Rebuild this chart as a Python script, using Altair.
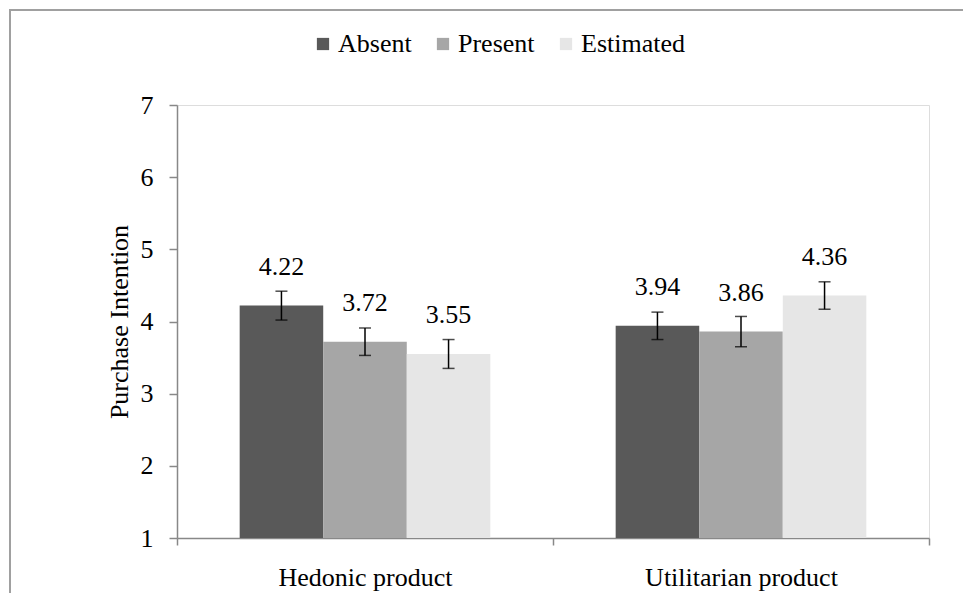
import altair as alt
import pandas as pd

categories = ["Hedonic product", "Utilitarian product"]
groups = ["Absent", "Present", "Estimated"]
means = {
    "Hedonic product": [4.22, 3.72, 3.55],
    "Utilitarian product": [3.94, 3.86, 4.36],
}
errors = {
    "Hedonic product": [0.20, 0.19, 0.20],
    "Utilitarian product": [0.19, 0.21, 0.19],
}
colors = ["#595959", "#a6a6a6", "#e6e6e6"]
y_ticks = [1, 2, 3, 4, 5, 6, 7]

rows = []
for c in categories:
    for g, m, e in zip(groups, means[c], errors[c]):
        rows.append({"Category": c, "Group": g, "Mean": m, "Lo": m - e, "Hi": m + e,
                     "Label": f"{m:.2f}"})
df = pd.DataFrame(rows)

FONT = "Liberation Serif"
AXIS_GRAY = "#888888"

x_enc = alt.X("Category:N", sort=categories,
              scale=alt.Scale(paddingInner=0, paddingOuter=0),
              axis=alt.Axis(title=None, labelAngle=0, tickBand="extent", labelLimit=0,
                            labelFontSize=26, labelFont=FONT, labelColor="black",
                            labelPadding=19, tickSize=7, tickColor=AXIS_GRAY,
                            domainColor=AXIS_GRAY, domainWidth=1.5, tickWidth=1.5))
xo_enc = alt.XOffset("Group:N", sort=groups,
                     scale=alt.Scale(paddingInner=0, paddingOuter=0.75))
y_scale = alt.Scale(domain=[1, 7], zero=False, nice=False)

base = alt.Chart(df)

bars = base.mark_bar(strokeWidth=0).encode(
    x=x_enc,
    xOffset=xo_enc,
    y=alt.Y("Mean:Q", scale=y_scale,
            axis=alt.Axis(values=y_ticks, format="d", title="Purchase Intention", grid=False,
                          labelFontSize=26, labelFont=FONT, labelColor="black",
                          labelPadding=16, tickSize=8, tickColor=AXIS_GRAY,
                          tickWidth=1.5, domainColor=AXIS_GRAY, domainWidth=1.5,
                          titleFontSize=26, titleFont=FONT, titleFontWeight="normal",
                          titleColor="black", titlePadding=8)),
    y2=alt.Y2Datum(1),
    color=alt.Color("Group:N", sort=groups,
                    scale=alt.Scale(domain=groups, range=colors),
                    legend=alt.Legend(title=None, orient="none", direction="horizontal",
                                      legendX=133, legendY=-74, symbolType="square",
                                      symbolSize=150, symbolStrokeWidth=0,
                                      labelFontSize=26, labelFont=FONT, labelColor="black",
                                      labelOffset=2, columnPadding=18, padding=0)),
)

err_line = base.mark_rule(color="black", strokeWidth=1.5).encode(
    x=x_enc, xOffset=xo_enc,
    y=alt.Y("Lo:Q", scale=y_scale), y2="Hi:Q",
)
err_lo = base.mark_tick(color="black", thickness=1.5, size=12).encode(
    x=x_enc, xOffset=xo_enc, y=alt.Y("Lo:Q", scale=y_scale),
)
err_hi = base.mark_tick(color="black", thickness=1.5, size=12).encode(
    x=x_enc, xOffset=xo_enc, y=alt.Y("Hi:Q", scale=y_scale),
)
labels = base.mark_text(font=FONT, fontSize=26, color="black", baseline="middle",
                        dy=-39).encode(
    x=x_enc, xOffset=xo_enc, y=alt.Y("Mean:Q", scale=y_scale), text="Label:N",
)

frame_src = alt.Chart(pd.DataFrame({"f": [0]}))
frame_left = frame_src.mark_rule(color="#a0a0a0", strokeWidth=2).encode(
    x=alt.value(-167), y=alt.value(-96), y2=alt.value(488))
frame_top = frame_src.mark_rule(color="#a0a0a0", strokeWidth=2).encode(
    x=alt.value(-168), x2=alt.value(786), y=alt.value(-95))

chart = alt.layer(frame_left, frame_top, bars, err_line, err_lo, err_hi, labels).properties(
    width=752, height=433,
    padding={"left": 169, "top": 97, "right": 34, "bottom": 55},
    autosize=alt.AutoSizeParams(type="none"),
).configure_view(stroke=None).configure(background="white")

chart.save("out.html", embed_options={"renderer": "svg", "actions": False})
